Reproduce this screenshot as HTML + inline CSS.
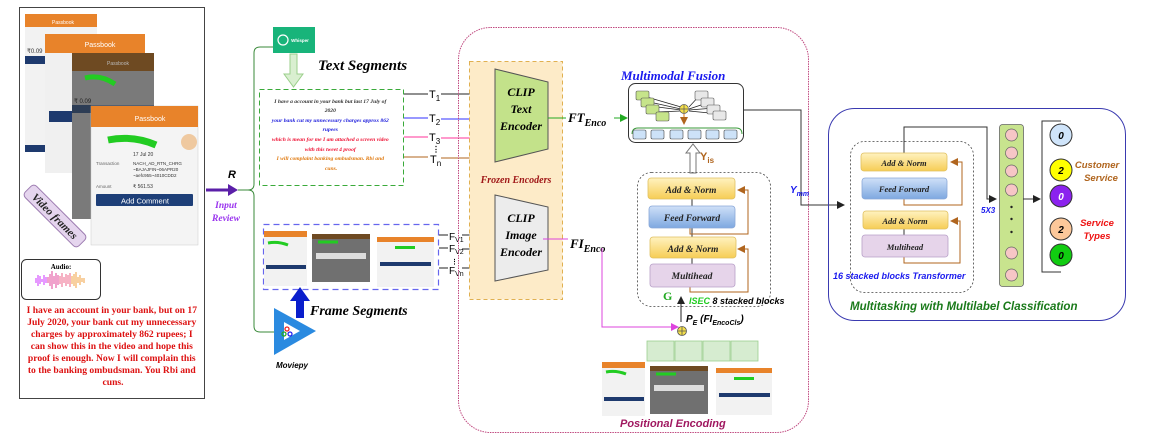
<!DOCTYPE html>
<html><head><meta charset="utf-8"><style>
html,body{margin:0;padding:0;background:#fff;width:1150px;height:442px;overflow:hidden}
svg{display:block}
.serif{font-family:"Liberation Serif",serif}
.sans{font-family:"Liberation Sans",sans-serif}
</style></head><body>
<svg width="1150" height="442" viewBox="0 0 1150 442" xmlns="http://www.w3.org/2000/svg">
<defs>
<marker id="ab" markerWidth="8" markerHeight="8" refX="7" refY="4" orient="auto" markerUnits="userSpaceOnUse"><path d="M0,0L8,4L0,8z" fill="#222"/></marker>
<marker id="abl" markerWidth="8" markerHeight="8" refX="7" refY="4" orient="auto" markerUnits="userSpaceOnUse"><path d="M0,0L8,4L0,8z" fill="#3333ff"/></marker>
<marker id="ap" markerWidth="8" markerHeight="8" refX="7" refY="4" orient="auto" markerUnits="userSpaceOnUse"><path d="M0,0L8,4L0,8z" fill="#ff3399"/></marker>
<marker id="ao" markerWidth="8" markerHeight="8" refX="7" refY="4" orient="auto" markerUnits="userSpaceOnUse"><path d="M0,0L8,4L0,8z" fill="#b0651e"/></marker>
<marker id="ag" markerWidth="8" markerHeight="8" refX="7" refY="4" orient="auto" markerUnits="userSpaceOnUse"><path d="M0,0L8,4L0,8z" fill="#22aa22"/></marker>
<marker id="am" markerWidth="8" markerHeight="8" refX="7" refY="4" orient="auto" markerUnits="userSpaceOnUse"><path d="M0,0L8,4L0,8z" fill="#dd44dd"/></marker>
<linearGradient id="yel" x1="0" y1="0" x2="0" y2="1"><stop offset="0" stop-color="#fff2c0"/><stop offset="1" stop-color="#f6cd55"/></linearGradient>
<linearGradient id="blu" x1="0" y1="0" x2="0" y2="1"><stop offset="0" stop-color="#cfe0f8"/><stop offset="1" stop-color="#7ea8e0"/></linearGradient>
</defs>

<!-- LEFT PANEL -->
<rect x="19.5" y="7.5" width="185" height="391" fill="#fff" stroke="#444" stroke-width="1"/>
<!-- phone1 -->
<rect x="25" y="14" width="72" height="138" fill="#f2f2f2"/>
<rect x="25" y="14" width="72" height="13" fill="#e8832a"/>
<text x="63" y="24" font-size="5" fill="#fff" class="sans" text-anchor="middle">Passbook</text>
<rect x="25" y="56" width="20" height="8" fill="#1e3a6e"/>
<text x="27" y="53" font-size="6" class="sans" fill="#333">₹0.09</text>
<rect x="25" y="145" width="20" height="7" fill="#1e3a6e"/>
<!-- phone2 -->
<rect x="45" y="34" width="100" height="139" fill="#f0f0f0"/>
<rect x="45" y="34" width="100" height="19" fill="#e8832a"/>
<text x="100" y="47" font-size="7" fill="#fff" class="sans" text-anchor="middle">Passbook</text>
<rect x="49" y="111" width="25" height="11" fill="#1e3a6e"/>
<!-- phone3 -->
<rect x="72" y="53" width="82" height="166" fill="#7a7a7a"/>
<rect x="72" y="53" width="82" height="18" fill="#6e4a22"/>
<text x="118" y="65" font-size="5" fill="#bbb" class="sans" text-anchor="middle">Passbook</text>
<path d="M85,78 q15,-4 30,6" stroke="#22cc22" stroke-width="5" fill="none"/>
<text x="74" y="103" font-size="6" fill="#222" class="sans">₹ 0.09</text>
<rect x="72" y="105" width="82" height="8" fill="#2d3d55"/>
<!-- phone4 -->
<rect x="91" y="106" width="107" height="139" fill="#f4f4f4" stroke="#ccc" stroke-width="0.5"/>
<rect x="91" y="106" width="107" height="21" fill="#e8832a"/>
<text x="150" y="121" font-size="7" fill="#fff" class="sans" text-anchor="middle">Passbook</text>
<path d="M108,140 q25,-5 48,5" stroke="#22cc22" stroke-width="7" fill="none"/>
<circle cx="189" cy="142" r="8" fill="#efc9a0"/>
<text x="96" y="165" font-size="4.5" fill="#666" class="sans">Transaction</text>
<text x="133" y="156" font-size="5" fill="#333" class="sans">17 Jul 20</text>
<text x="133" y="165" font-size="4.5" fill="#333" class="sans">NACH_AD_RTN_CHRG</text>
<text x="133" y="171" font-size="4.5" fill="#333" class="sans">~BAJAJFIN~06APR20</text>
<text x="133" y="177" font-size="4.5" fill="#333" class="sans">~aefc955~4010CDD2</text>
<text x="96" y="188" font-size="4.5" fill="#666" class="sans">Amount</text>
<text x="133" y="188" font-size="5" fill="#333" class="sans">₹ 561.53</text>
<rect x="96" y="194" width="97" height="12" fill="#1e3f78" rx="1"/>
<text x="145" y="203.5" font-size="7.5" fill="#fff" class="sans" text-anchor="middle">Add Comment</text>
<!-- Video frames tag -->
<g transform="translate(55,216) rotate(45)">
<rect x="-38" y="-8" width="76" height="16" rx="4" fill="#e5d5ee" stroke="#9c7bb0" stroke-width="1"/>
<text x="0" y="4" font-size="11" font-weight="bold" font-style="italic" class="serif" text-anchor="middle" fill="#222">Video frames</text>
</g>
<!-- audio -->
<rect x="21.5" y="259.5" width="79" height="40" rx="5" fill="#fff" stroke="#333" stroke-width="1"/>
<text x="61" y="269" font-size="7" font-weight="bold" class="serif" text-anchor="middle">Audio:</text>
<g stroke-width="1">
<path d="M36,283v-5M38,286v-11M40,284v-8M42,282v-3M44,285v-10M46,283v-6" stroke="#cc33ff"/>
<path d="M48,283v-6M50,286v-12M52,289v-18M54,284v-8M56,288v-15M58,285v-10" stroke="#e04499"/>
<path d="M60,284v-8M62,287v-14M64,283v-6M66,286v-12M68,284v-9M70,287v-14" stroke="#ee6688"/>
<path d="M72,284v-8M74,286v-12M76,288v-16M78,283v-6M80,285v-10M82,282v-4M84,283v-5" stroke="#f0a040"/>
</g>
<text class="serif" font-size="9.6" font-weight="bold" fill="#dd1111" text-anchor="middle">
<tspan x="113" y="313">I have an account in your bank, but on 17</tspan>
<tspan x="113" y="325">July 2020, your bank cut my unnecessary</tspan>
<tspan x="113" y="337">charges by approximately 862 rupees; I</tspan>
<tspan x="113" y="349">can show this in the video and hope this</tspan>
<tspan x="113" y="361">proof is enough. Now I will complain this</tspan>
<tspan x="113" y="373">to the banking ombudsman. You Rbi and</tspan>
<tspan x="113" y="385">cuns.</tspan>
</text>

<!-- Input review arrow -->
<line x1="206" y1="190" x2="230" y2="190" stroke="#5b1fa8" stroke-width="3"/>
<path d="M228,184L238,190L228,196z" fill="#5b1fa8"/>
<text x="228" y="178" font-size="11" font-weight="bold" font-style="italic" class="sans">R</text>
<text class="serif" font-size="9.5" font-weight="bold" font-style="italic" fill="#9933ee" text-anchor="middle"><tspan x="226" y="208">Input</tspan><tspan x="226" y="221">Review</tspan></text>
<!-- green bracket -->
<path d="M238,190H248q6,0 6,-6V53q0,-6 6,-6H274" fill="none" stroke="#3a8a3a" stroke-width="1"/>
<path d="M248,190q6,0 6,6V326q0,6 6,6H276" fill="none" stroke="#3a8a3a" stroke-width="1"/>
<!-- whisper -->
<rect x="273" y="27" width="42" height="26" fill="#18b47a"/>
<circle cx="283" cy="40" r="5" fill="none" stroke="#fff" stroke-width="1.2"/>
<text x="300" y="42" font-size="4.5" fill="#fff" font-weight="bold" class="sans" text-anchor="middle">Whisper</text>
<path d="M290,54H297V74H303L293.5,87L284,74H290z" fill="#d9efd0" stroke="#9bcf8b" stroke-width="1"/>
<text x="318" y="70" font-size="15" font-weight="bold" font-style="italic" class="serif">Text Segments</text>
<!-- text box -->
<rect x="259.5" y="89.5" width="144" height="96" fill="none" stroke="#3aaa3a" stroke-width="1" stroke-dasharray="5,3"/>
<text class="serif" font-size="5.6" font-weight="bold" font-style="italic" text-anchor="middle">
<tspan x="331" y="103" fill="#333">I have a account in your bank but last 17 July of</tspan>
<tspan x="331" y="112" fill="#333">2020</tspan>
<tspan x="331" y="122" fill="#2222dd">your bank cut my unnecessary charges approx 862</tspan>
<tspan x="331" y="131" fill="#2222dd">rupees</tspan>
<tspan x="331" y="141" fill="#ee1133">which is mean for me I am attached a screen video</tspan>
<tspan x="331" y="151" fill="#ee1133">with this tweet 4 proof</tspan>
<tspan x="331" y="160" fill="#e07a10">I will complaint banking  ombudsman. Rbi and</tspan>
<tspan x="331" y="170" fill="#e07a10">cuns.</tspan>
</text>
<!-- T lines -->
<g class="sans" font-size="11">
<line x1="404" y1="94" x2="428" y2="94" stroke="#222"/><line x1="441" y1="94" x2="497" y2="94" stroke="#222" marker-end="url(#ab)"/>
<text x="429" y="98">T<tspan font-size="8" dy="3">1</tspan></text>
<line x1="404" y1="118" x2="428" y2="118" stroke="#7777ff" stroke-width="1.5"/><line x1="441" y1="119" x2="497" y2="119" stroke="#7777ff" stroke-width="1.5" marker-end="url(#abl)"/>
<text x="429" y="122">T<tspan font-size="8" dy="3">2</tspan></text>
<line x1="404" y1="137" x2="428" y2="137" stroke="#ff3399"/><line x1="441" y1="138" x2="497" y2="138" stroke="#ff3399" marker-end="url(#ap)"/>
<text x="429" y="141">T<tspan font-size="8" dy="3">3</tspan></text>
<text x="432" y="152" font-size="8" font-weight="bold">⋮</text>
<line x1="404" y1="157" x2="428" y2="157" stroke="#b0651e"/><line x1="441" y1="158" x2="497" y2="158" stroke="#b0651e" marker-end="url(#ao)"/>
<text x="430" y="163">T<tspan font-size="8" dy="3">n</tspan></text>
</g>
<!-- frame box -->
<rect x="263.5" y="224.5" width="175" height="65" fill="none" stroke="#6666ee" stroke-width="1.2" stroke-dasharray="6,4"/>
<rect x="264" y="231" width="43" height="55" fill="#f2f2f2"/><rect x="264" y="231" width="43" height="6" fill="#e8832a"/>
<path d="M268,243q10,-2 20,2" stroke="#22cc22" stroke-width="3" fill="none"/>
<rect x="266" y="265" width="40" height="4" fill="#1e3a6e"/>
<rect x="312" y="234" width="58" height="48" fill="#707070"/><rect x="312" y="234" width="58" height="5" fill="#6e4a22"/>
<path d="M318,242h20" stroke="#22cc22" stroke-width="3"/><rect x="316" y="253" width="50" height="6" fill="#ddd"/>
<rect x="377" y="237" width="57" height="50" fill="#f2f2f2"/><rect x="377" y="237" width="57" height="5" fill="#e8832a"/>
<rect x="395" y="246" width="20" height="3" fill="#22cc22"/><rect x="380" y="262" width="51" height="4" fill="#1e3a6e"/>
<g class="sans" font-size="10">
<line x1="439" y1="235" x2="448" y2="235" stroke="#222"/><line x1="462" y1="235" x2="497" y2="235" stroke="#222" marker-end="url(#ab)"/>
<text x="449" y="240">F<tspan font-size="7" dy="2">V1</tspan></text>
<line x1="439" y1="248" x2="448" y2="248" stroke="#222"/><line x1="462" y1="249" x2="497" y2="249" stroke="#222" marker-end="url(#ab)"/>
<text x="449" y="252">F<tspan font-size="7" dy="2">V2</tspan></text>
<text x="451" y="264" font-size="7" font-weight="bold">⋮</text>
<line x1="439" y1="268" x2="448" y2="268" stroke="#222"/><line x1="462" y1="268" x2="497" y2="268" stroke="#222" marker-end="url(#ab)"/>
<text x="449" y="274">F<tspan font-size="7" dy="2">Vn</tspan></text>
</g>
<!-- blue up arrow -->
<path d="M296,318V301H290L300,287L310,301H304V318z" fill="#0a1ecc"/>
<text x="310" y="315" font-size="14" font-weight="bold" font-style="italic" class="serif">Frame Segments</text>
<!-- moviepy -->
<path d="M274,308L316,331L274,355z" fill="#2a8ae0"/>
<path d="M284,322L300,331L284,340z" fill="#fff"/>
<circle cx="287" cy="329" r="2" fill="none" stroke="#e22" stroke-width="1.3"/>
<circle cx="284" cy="334" r="2" fill="none" stroke="#2a2" stroke-width="1.3"/>
<circle cx="290" cy="334" r="2" fill="none" stroke="#22e" stroke-width="1.3"/>
<text x="276" y="368" font-size="8" font-weight="bold" font-style="italic" class="sans">Moviepy</text>

<!-- BIG PINK BOX -->
<rect x="458.5" y="27.5" width="350" height="405" rx="32" fill="none" stroke="#c04a80" stroke-width="1" stroke-dasharray="1.5,1"/>
<!-- frozen encoders -->
<rect x="469.5" y="61.5" width="93" height="238" fill="#fdebc8" stroke="#e0b050" stroke-width="1" stroke-dasharray="4,3"/>
<path d="M495,69L548,82V149L495,162z" fill="#c3e28a" stroke="#555" stroke-width="1"/>
<text class="serif" font-size="12" font-weight="bold" font-style="italic" text-anchor="middle"><tspan x="521" y="96">CLIP</tspan><tspan x="521" y="113">Text</tspan><tspan x="521" y="130">Encoder</tspan></text>
<text x="516" y="183" font-size="10" font-weight="bold" font-style="italic" class="serif" fill="#a01818" text-anchor="middle">Frozen Encoders</text>
<path d="M495,195L548,207V270L495,281z" fill="#ececec" stroke="#555" stroke-width="1"/>
<text class="serif" font-size="12" font-weight="bold" font-style="italic" text-anchor="middle"><tspan x="521" y="222">CLIP</tspan><tspan x="521" y="239">Image</tspan><tspan x="521" y="256">Encoder</tspan></text>
<!-- FT Enco -->
<line x1="548" y1="118" x2="566" y2="118" stroke="#22aa22"/>
<text x="568" y="122" font-size="13" font-weight="bold" font-style="italic" class="serif">FT<tspan font-size="10" dy="4">Enco</tspan></text>
<line x1="614" y1="118" x2="627" y2="118" stroke="#22aa22" marker-end="url(#ag)"/>
<!-- FI Enco -->
<line x1="543" y1="239" x2="568" y2="239" stroke="#dd44dd"/>
<text x="570" y="248" font-size="13" font-weight="bold" font-style="italic" class="serif">FI<tspan font-size="10" dy="4">Enco</tspan></text>
<path d="M602,248V327H678" fill="none" stroke="#dd44dd" stroke-width="1" marker-end="url(#am)"/>
<!-- multimodal fusion -->
<text x="621" y="80" font-size="13" font-weight="bold" font-style="italic" class="serif" fill="#1a1aee">Multimodal Fusion</text>
<rect x="628.5" y="83.5" width="115" height="59" rx="7" fill="#fff" stroke="#333" stroke-width="1"/>
<g stroke="#222" stroke-width="0.7">
<line x1="640" y1="95" x2="681" y2="107"/><line x1="645" y1="101" x2="681" y2="109"/><line x1="650" y1="106" x2="681" y2="110"/><line x1="656" y1="112" x2="681" y2="111"/>
<line x1="700" y1="95" x2="689" y2="107"/><line x1="710" y1="102" x2="689" y2="109"/><line x1="715" y1="108" x2="689" y2="110"/><line x1="720" y1="114" x2="689" y2="111"/>
</g>
<g fill="#c6e48a" stroke="#555" stroke-width="0.6">
<rect x="636" y="91" width="13" height="9" rx="1.5"/><rect x="641" y="98" width="13" height="9" rx="1.5"/><rect x="646" y="105" width="13" height="9" rx="1.5"/><rect x="656" y="112" width="13" height="9" rx="1.5"/>
</g>
<g fill="#e8e8e8" stroke="#555" stroke-width="0.6">
<rect x="695" y="91" width="13" height="9" rx="1.5"/><rect x="701" y="98" width="13" height="9" rx="1.5"/><rect x="707" y="105" width="13" height="9" rx="1.5"/><rect x="713" y="111" width="13" height="9" rx="1.5"/>
</g>
<circle cx="684" cy="109" r="4.5" fill="#f5e04a" stroke="#555" stroke-width="0.7"/>
<path d="M680,109h8M684,105v8" stroke="#555" stroke-width="0.7"/>
<line x1="684" y1="114" x2="684" y2="124" stroke="#e07a10" marker-end="url(#ao)"/>
<path d="M632,134q0,-6 6,-6H736q6,0 6,6" fill="none" stroke="#3a9a3a" stroke-width="1"/>
<g fill="#cde2f8" stroke="#444" stroke-width="0.6">
<rect x="633" y="130" width="13" height="9" rx="1.5"/><rect x="651" y="130" width="13" height="9" rx="1.5"/><rect x="670" y="130" width="13" height="9" rx="1.5"/><rect x="688" y="130" width="13" height="9" rx="1.5"/><rect x="706" y="130" width="13" height="9" rx="1.5"/><rect x="724" y="130" width="13" height="9" rx="1.5"/>
</g>
<!-- Yis hollow arrow -->
<path d="M690,173V153H686L693,144L700,153H696V173z" fill="#fff" stroke="#777" stroke-width="1"/>
<text x="700" y="160" font-size="11" font-weight="bold" class="sans" fill="#b0651e">Y<tspan font-size="8" dy="3">is</tspan></text>
<!-- ISEC block -->
<rect x="637.5" y="172.5" width="133" height="134" rx="14" fill="none" stroke="#444" stroke-width="0.8" stroke-dasharray="2,2"/>
<line x1="692" y1="199" x2="692" y2="206" stroke="#333"/><line x1="692" y1="228" x2="692" y2="237" stroke="#333"/><line x1="692" y1="258" x2="692" y2="264" stroke="#333"/>
<path d="M690,228V234H748V190H738" fill="none" stroke="#b0651e" marker-end="url(#ao)"/>
<path d="M690,287V292H748V249H738" fill="none" stroke="#b0651e" marker-end="url(#ao)"/>
<rect x="648" y="178" width="87" height="21" rx="3" fill="url(#yel)" stroke="#e0c060" stroke-width="0.8"/>
<rect x="649" y="206" width="86" height="22" rx="3" fill="url(#blu)" stroke="#8aa8d8" stroke-width="0.8"/>
<rect x="650" y="237" width="86" height="21" rx="3" fill="url(#yel)" stroke="#e0c060" stroke-width="0.8"/>
<rect x="650" y="264" width="85" height="23" rx="3" fill="#e6d4ea" stroke="#b8a0c8" stroke-width="0.8"/>
<g class="serif" font-size="9.5" font-weight="bold" font-style="italic" text-anchor="middle" fill="#222">
<text x="691" y="193">Add &amp; Norm</text><text x="692" y="221">Feed Forward</text><text x="693" y="252">Add &amp; Norm</text><text x="692" y="279">Multihead</text>
</g>
<text x="663" y="300" font-size="12" font-weight="bold" class="serif" fill="#22aa22">G</text>
<line x1="681" y1="322" x2="681" y2="297" stroke="#222" marker-end="url(#ab)"/>
<text x="689" y="304" font-size="9" font-weight="bold" font-style="italic" class="sans"><tspan fill="#22cc22">ISEC</tspan> 8 stacked blocks</text>
<text x="686" y="322" font-size="10" font-weight="bold" font-style="italic" class="sans">P<tspan font-size="7" dy="3">E</tspan><tspan dy="-3"> (FI</tspan><tspan font-size="7" dy="3">EncoCls</tspan><tspan dy="-3">)</tspan></text>
<circle cx="682" cy="331" r="4.5" fill="#f5e04a" stroke="#555" stroke-width="0.8"/>
<path d="M678,331h8M682,327v8" stroke="#555" stroke-width="0.8"/>
<g fill="#d6ecd0" stroke="#9ccf8e" stroke-width="0.8">
<rect x="647" y="341" width="27" height="20"/><rect x="675" y="341" width="27" height="20"/><rect x="703" y="341" width="27" height="20"/><rect x="731" y="341" width="27" height="20"/>
</g>
<rect x="602" y="362" width="43" height="54" fill="#f2f2f2"/><rect x="602" y="362" width="43" height="6" fill="#e8832a"/>
<path d="M606,372q10,-2 20,2" stroke="#22cc22" stroke-width="3" fill="none"/><rect x="604" y="397" width="40" height="4" fill="#1e3a6e"/>
<rect x="650" y="366" width="58" height="48" fill="#707070"/><rect x="650" y="366" width="58" height="5" fill="#6e4a22"/>
<path d="M656,374h20" stroke="#22cc22" stroke-width="3"/><rect x="654" y="385" width="50" height="6" fill="#ddd"/>
<rect x="716" y="368" width="56" height="47" fill="#f2f2f2"/><rect x="716" y="368" width="56" height="5" fill="#e8832a"/>
<rect x="734" y="377" width="20" height="3" fill="#22cc22"/><rect x="719" y="393" width="51" height="4" fill="#1e3a6e"/>
<text x="620" y="427" font-size="11" font-weight="bold" font-style="italic" class="sans" fill="#a01860">Positional Encoding</text>
<!-- Ymm -->
<path d="M744,110H801V205H844" fill="none" stroke="#333" stroke-width="1" marker-end="url(#ab)"/>
<text x="790" y="193" font-size="10" font-weight="bold" font-style="italic" class="sans" fill="#1a1aee">Y<tspan font-size="7" dy="3">mm</tspan></text>

<!-- RIGHT BOX -->
<rect x="828.5" y="108.5" width="297" height="212" rx="26" fill="none" stroke="#3a3ab0" stroke-width="1"/>
<rect x="850.5" y="141.5" width="123" height="151" rx="14" fill="none" stroke="#444" stroke-width="0.8" stroke-dasharray="2,2"/>
<path d="M904,153V127H987V199H996" fill="none" stroke="#333" stroke-width="1" marker-end="url(#ab)"/>
<path d="M904,199V205H962V162H951" fill="none" stroke="#b0651e" marker-end="url(#ao)"/>
<path d="M904,257V263H960V221H951" fill="none" stroke="#b0651e" marker-end="url(#ao)"/>
<line x1="904" y1="229" x2="904" y2="235" stroke="#333"/>
<rect x="861" y="153" width="86" height="18" rx="3" fill="url(#yel)" stroke="#e0c060" stroke-width="0.8"/>
<rect x="862" y="178" width="85" height="21" rx="3" fill="url(#blu)" stroke="#8aa8d8" stroke-width="0.8"/>
<rect x="863" y="211" width="85" height="18" rx="3" fill="url(#yel)" stroke="#e0c060" stroke-width="0.8"/>
<rect x="862" y="235" width="86" height="22" rx="3" fill="#e6d4ea" stroke="#b8a0c8" stroke-width="0.8"/>
<g class="serif" font-size="8.5" font-weight="bold" font-style="italic" text-anchor="middle" fill="#222">
<text x="904" y="166">Add &amp; Norm</text><text x="904" y="192">Feed Forward</text><text x="905" y="224">Add &amp; Norm</text><text x="905" y="250">Multihead</text>
</g>
<text x="833" y="279" font-size="9" font-weight="bold" font-style="italic" class="sans" fill="#1a1aee">16 stacked blocks Transformer</text>
<text x="981" y="213" font-size="8" font-weight="bold" font-style="italic" class="sans" fill="#1a1aee">5X3</text>
<rect x="999.5" y="124.5" width="24" height="162" rx="3" fill="#c8e48e" stroke="#666" stroke-width="0.8"/>
<g fill="#f7c6c6" stroke="#666" stroke-width="0.7">
<circle cx="1011.5" cy="135" r="6"/><circle cx="1011.5" cy="153" r="6"/><circle cx="1011.5" cy="171" r="6"/><circle cx="1011.5" cy="190" r="6"/><circle cx="1011.5" cy="253" r="6"/><circle cx="1011.5" cy="275" r="6"/>
</g>
<g fill="#222"><circle cx="1011.5" cy="207" r="1.2"/><circle cx="1011.5" cy="219" r="1.2"/><circle cx="1011.5" cy="232" r="1.2"/></g>
<line x1="1023" y1="199" x2="1040" y2="199" stroke="#333" marker-end="url(#ab)"/>
<path d="M1061,121H1042V272H1061" fill="none" stroke="#333" stroke-width="1"/>
<g stroke="#333" stroke-width="1">
<circle cx="1061" cy="135" r="11" fill="#cfe4fa"/><circle cx="1061" cy="170" r="11" fill="#ffff00"/><circle cx="1061" cy="196" r="11" fill="#8b22ee"/><circle cx="1061" cy="229" r="11" fill="#fcc89a"/><circle cx="1061" cy="255" r="11" fill="#11cc11"/>
</g>
<g class="sans" font-size="10" font-weight="bold" font-style="italic" text-anchor="middle">
<text x="1061" y="139">0</text><text x="1061" y="174">2</text><text x="1061" y="200" fill="#fff">0</text><text x="1061" y="233">2</text><text x="1061" y="259">0</text>
</g>
<text class="sans" font-size="9.5" font-weight="bold" font-style="italic" fill="#b0651e" text-anchor="middle"><tspan x="1097" y="168">Customer</tspan><tspan x="1101" y="181">Service</tspan></text>
<text class="sans" font-size="9.5" font-weight="bold" font-style="italic" fill="#ee1111" text-anchor="middle"><tspan x="1097" y="226">Service</tspan><tspan x="1097" y="239">Types</tspan></text>
<text x="850" y="310" font-size="11.5" font-weight="bold" font-style="italic" class="sans" fill="#1a7a1a">Multitasking with Multilabel Classification</text>
</svg>
</body></html>
